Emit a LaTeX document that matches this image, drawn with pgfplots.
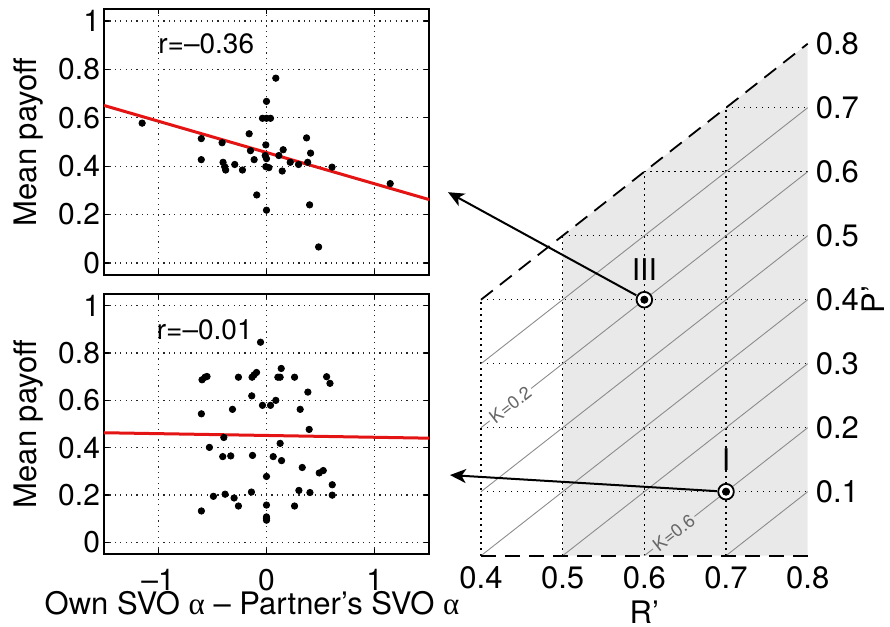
\documentclass[border=0pt]{standalone}
\usepackage{pgfplots}
\pgfplotsset{compat=1.18}
\usepackage{pgfplotstable}
\usepackage{fontspec}
\setmainfont{TeX Gyre Heros}
\newfontfamily\greekf{Liberation Serif}
\usetikzlibrary{arrows.meta}
\definecolor{graybg}{RGB}{233,233,233}
\definecolor{mred}{RGB}{228,20,20}
\tikzset{klabel/.style={sloped, inner sep=1.2pt, text=black!60, font=\fontsize{9}{10}\selectfont}}

\pgfplotstableread{
x y
-1.148 0.578
-0.602 0.514
-0.602 0.427
-0.410 0.497
-0.401 0.416
-0.386 0.398
-0.377 0.384
-0.293 0.407
-0.222 0.384
-0.160 0.534
-0.148 0.464
-0.114 0.427
-0.090 0.281
-0.037 0.598
0.000 0.598
0.037 0.598
0.000 0.668
0.086 0.764
-0.006 0.488
-0.012 0.444
0.000 0.431
-0.006 0.398
0.022 0.394
0.000 0.218
0.114 0.444
0.154 0.468
0.145 0.380
0.219 0.416
0.296 0.407
0.370 0.517
0.407 0.454
0.380 0.416
0.398 0.240
0.481 0.066
0.605 0.396
1.142 0.328
}\topdata

\pgfplotstableread{
x y
-0.055 0.846
-0.595 0.687
-0.567 0.698
-0.549 0.701
-0.259 0.698
-0.133 0.698
-0.114 0.708
-0.092 0.718
0.105 0.698
0.126 0.698
0.136 0.735
0.259 0.698
0.555 0.700
0.586 0.672
0.382 0.635
-0.136 0.619
-0.037 0.579
0.037 0.579
0.086 0.600
-0.601 0.543
-0.314 0.562
0.311 0.562
0.394 0.477
-0.394 0.443
-0.527 0.401
-0.404 0.362
-0.330 0.365
-0.129 0.367
0.126 0.418
0.062 0.362
0.139 0.345
0.000 0.278
0.330 0.316
0.487 0.293
0.524 0.303
0.607 0.243
0.607 0.199
0.401 0.210
0.299 0.219
0.259 0.153
0.000 0.157
0.000 0.107
0.000 0.093
0.000 0.100
-0.139 0.212
-0.259 0.153
-0.299 0.187
-0.382 0.203
-0.490 0.194
-0.601 0.132
}\botdata

\begin{document}
\begin{tikzpicture}
\useasboundingbox (0,0) rectangle (445pt,313.5pt);
\pgfplotsset{
  leftpanel/.style={
    scale only axis, width=162.5pt,
    xmin=-1.5, xmax=1.5, ymin=-0.05, ymax=1.05,
    xtick={-1,0,1}, ytick={0,0.2,0.4,0.6,0.8,1},
    yticklabels={0,0.2,0.4,0.6,0.8,1},
    tick align=inside, major tick length=2.5pt,
    axis line style={line width=0.8pt},
    every tick/.style={black, line width=0.6pt},
    grid=major,
    major grid style={black!85, line width=0.6pt, dash pattern=on 0.6pt off 2.1pt},
    tick label style={font=\fontsize{15}{18}\selectfont},
    yticklabel style={xshift=1.5pt},
    xticklabel style={yshift=-4pt},
    ylabel={Mean payoff},
    ylabel style={at={(axis description cs:-0.2323,0.5)}, anchor=center, font=\fontsize{15.5}{18}\selectfont},
  },
  gridr/.style={black, line width=0.7pt, dash pattern=on 0.7pt off 2.3pt},
  kline/.style={black!45, line width=0.45pt},
  dashl/.style={black, line width=0.9pt, dash pattern=on 7.5pt off 4.5pt},
}

% top-left panel
\begin{axis}[leftpanel, at={(52pt,176pt)}, anchor=south west, height=133pt, xticklabels={}]
\addplot[only marks, mark=*, mark size=1.6pt, black] table[x=x,y=y] {\topdata};
\addplot[mred, line width=1.5pt] coordinates {(-1.5,0.651) (1.5,0.262)};
\node[font=\fontsize{14}{17}\selectfont] at (axis cs:-0.556,0.905) {r=–0.36};
\end{axis}

% bottom-left panel
\begin{axis}[leftpanel, at={(52pt,36.5pt)}, anchor=south west, height=130pt,
  xticklabels={–1,0,1},
  xlabel={Own SVO {\greekf α} – Partner’s SVO {\greekf α}},
  xlabel style={at={(axis description cs:0.4554,0)}, anchor=base, yshift=-30.5pt, font=\fontsize{15.5}{18}\selectfont}]
\addplot[only marks, mark=*, mark size=1.6pt, black] table[x=x,y=y] {\botdata};
\addplot[mred, line width=1.5pt] coordinates {(-1.5,0.463) (1.5,0.440)};
\node[font=\fontsize{14}{17}\selectfont] at (axis cs:-0.57,0.90) {r=–0.01};
\end{axis}

% right panel
\begin{axis}[at={(240.5pt,35.65pt)}, anchor=south west, scale only axis,
  width=163.35pt, height=256pt,
  xmin=0.4, xmax=0.8, ymin=0, ymax=0.8, clip=false,
  axis line style={draw=none}, major tick style={draw=none},
  xtick={0.4,0.5,0.6,0.7,0.8}, xticklabels={0.4,0.5,0.6,0.7,0.8},
  ytick={0.1,0.2,0.3,0.4,0.5,0.6,0.7,0.8},
  yticklabels={0.1,0.2,0.3,0.4,0.5,0.6,0.7,0.8},
  yticklabel pos=right, ytick pos=right,
  tick label style={font=\fontsize{15.5}{18}\selectfont},
  xticklabel style={yshift=-2pt},
  yticklabel style={xshift=0.5pt},
  xlabel={R’}, ylabel={P’},
  xlabel style={at={(axis description cs:0.5,0)}, anchor=base, yshift=-33.7pt, font=\fontsize{15.5}{18}\selectfont},
  ylabel style={at={(axis description cs:1.200,0.5)}, anchor=center, font=\fontsize{15.5}{18}\selectfont},
]
% shaded region
\addplot[fill=graybg, draw=none] coordinates {(0.5,0.5) (0.8,0.8)} \closedcycle;
% dotted grid
\addplot[gridr] coordinates {(0.4,0) (0.4,0.4)};
\addplot[gridr] coordinates {(0.5,0) (0.5,0.5)};
\addplot[gridr] coordinates {(0.6,0) (0.6,0.6)};
\addplot[gridr] coordinates {(0.7,0) (0.7,0.7)};
\addplot[gridr] coordinates {(0.4,0.1) (0.8,0.1)};
\addplot[gridr] coordinates {(0.4,0.2) (0.8,0.2)};
\addplot[gridr] coordinates {(0.4,0.3) (0.8,0.3)};
\addplot[gridr] coordinates {(0.4,0.4) (0.8,0.4)};
\addplot[gridr] coordinates {(0.5,0.5) (0.8,0.5)};
\addplot[gridr] coordinates {(0.6,0.6) (0.8,0.6)};
\addplot[gridr] coordinates {(0.7,0.7) (0.8,0.7)};
% iso-K lines
\addplot[kline] coordinates {(0.4,0.3) (0.8,0.7)};
\addplot[kline] coordinates {(0.4,0.2) (0.8,0.6)} node[klabel, pos=0.09, fill=white] {K=0.2};
\addplot[kline] coordinates {(0.4,0.1) (0.8,0.5)};
\addplot[kline] coordinates {(0.4,0.0) (0.8,0.4)};
\addplot[kline] coordinates {(0.5,0.0) (0.8,0.3)};
\addplot[kline] coordinates {(0.6,0.0) (0.8,0.2)} node[klabel, pos=0.18, fill=graybg] {K=0.6};
\addplot[kline] coordinates {(0.7,0.0) (0.8,0.1)};
% dashed boundaries
\addplot[dashl] coordinates {(0.4,0.4) (0.8,0.8)};
\addplot[dashl] coordinates {(0.4,0) (0.8,0)};
% arrows
\draw[line width=1pt, -{Stealth[length=8pt,width=7pt,inset=2.2pt]}, shorten <=4.6pt] (axis cs:0.6,0.4) -- (axis cs:0.3596,0.568);
\draw[line width=1pt, -{Stealth[length=8pt,width=7pt,inset=2.2pt]}, shorten <=4.6pt] (axis cs:0.7,0.1) -- (axis cs:0.362,0.126);
% games
\addplot[only marks, mark=*, mark size=3.9pt, mark options={fill=white, draw=black, line width=0.9pt}] coordinates {(0.6,0.4) (0.7,0.1)};
\addplot[only marks, mark=*, mark size=1.8pt, black] coordinates {(0.6,0.4) (0.7,0.1)};
\node[font=\fontsize{15}{18}\selectfont] at (axis cs:0.6,0.447) {III};
\node[font=\fontsize{15}{18}\selectfont] at (axis cs:0.7,0.15) {I};
\end{axis}
\end{tikzpicture}
\end{document}
